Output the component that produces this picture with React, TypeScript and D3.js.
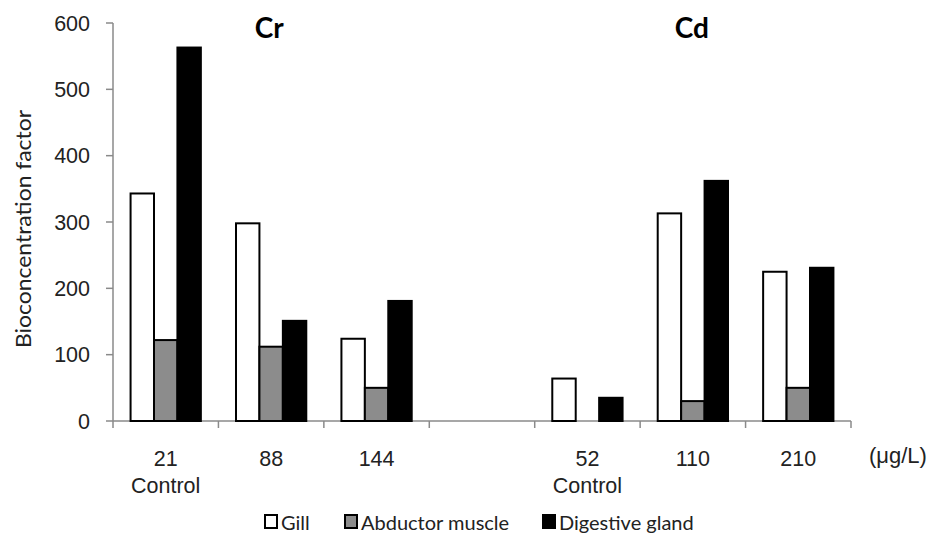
import React from "react";
import * as d3 from "d3";

const categories = ["21", "88", "144", "", "52", "110", "210"];
const subLabels = ["Control", "", "", "", "Control", "", ""];
const seriesNames = ["Gill", "Abductor muscle", "Digestive gland"];
const seriesFill = ["#ffffff", "#8c8c8c", "#000000"];
const gill = [343, 298, 124, null, 64, 313, 225];
const abductor = [122, 112, 50, null, 0, 30, 50];
const digestive = [563, 151, 181, null, 35, 362, 231];
const yTicks = [0, 100, 200, 300, 400, 500, 600];
const groupTitles = ["Cr", "Cd"];

const W = 936;
const H = 533;

export default function App() {
  const x = d3
    .scaleBand<number>()
    .domain(categories.map((_, i) => i))
    .range([113, 851])
    .paddingInner(0)
    .paddingOuter(0);
  const y = d3.scaleLinear().domain([0, 600]).range([421, 23]);
  const bw = x.bandwidth();
  const barW = bw / 4.5;
  const sub = d3
    .scaleBand<number>()
    .domain([0, 1, 2])
    .range([0.75 * barW, 3.75 * barW]);
  const series = [gill, abductor, digestive];
  const axisColor = "#8a8a8a";
  const arial = "'Liberation Sans', Arial, sans-serif";
  const cal = "Lato, 'Open Sans', sans-serif";

  const ticksX = d3.range(categories.length + 1).map((i) => 113 + i * bw);

  return (
    <svg
      width={W}
      height={H}
      style={{ position: "absolute", left: 0, top: 0, background: "#fff" }}
    >
      <rect x={0} y={0} width={W} height={H} fill="#fff" />
      {/* y axis */}
      <line x1={113} x2={113} y1={y(600)} y2={y(0)} stroke={axisColor} strokeWidth={1.5} />
      {yTicks.map((t) => (
        <g key={t}>
          <line x1={106} x2={113} y1={y(t)} y2={y(t)} stroke={axisColor} strokeWidth={1.5} />
          <text
            x={90}
            y={y(t)}
            dy="0.36em"
            textAnchor="end"
            fontFamily={arial}
            fontSize={21.5}
            fill="#222"
          >
            {t}
          </text>
        </g>
      ))}
      <text
        transform={`translate(31,229) rotate(-90)`}
        textAnchor="middle"
        fontFamily={cal}
        fontSize={21}
        textLength={238}
        lengthAdjust="spacingAndGlyphs"
        fill="#222"
      >
        Bioconcentration factor
      </text>
      {/* x axis */}
      <line x1={113} x2={851} y1={y(0)} y2={y(0)} stroke={axisColor} strokeWidth={1.5} />
      {ticksX.map((tx, i) => (
        <line key={i} x1={tx} x2={tx} y1={y(0)} y2={y(0) + 7} stroke={axisColor} strokeWidth={1.5} />
      ))}
      {categories.map((c, i) => (
        <g key={"lab" + i}>
          <text
            x={x(i)! + bw / 2}
            y={466}
            textAnchor="middle"
            fontFamily={arial}
            fontSize={21.5}
            fill="#222"
          >
            {c}
          </text>
          {subLabels[i] && (
            <text
              x={x(i)! + bw / 2}
              y={493}
              textAnchor="middle"
              fontFamily={arial}
              fontSize={21.5}
              fill="#222"
            >
              {subLabels[i]}
            </text>
          )}
        </g>
      ))}
      <text x={869} y={463} fontFamily={arial} fontSize={22} fill="#222">
        (μg/L)
      </text>
      {/* bars */}
      {series.map((vals, s) =>
        vals.map((v, i) =>
          v == null || v === 0 ? null : (
            <rect
              key={s + "-" + i}
              x={x(i)! + sub(s)!}
              y={y(v)}
              width={sub.bandwidth()}
              height={y(0) - y(v)}
              fill={seriesFill[s]}
              stroke="#000"
              strokeWidth={2}
            />
          )
        )
      )}
      {/* group titles */}
      <text x={x(1)! + bw / 2 - 2} y={38} textAnchor="middle" fontFamily={cal} fontWeight="bold" fontSize={28} fill="#000">
        {groupTitles[0]}
      </text>
      <text x={x(5)! + bw / 2 - 1} y={38} textAnchor="middle" fontFamily={cal} fontWeight="bold" fontSize={28} fill="#000">
        {groupTitles[1]}
      </text>
      {/* legend */}
      {seriesNames.map((n, s) => {
        const lx = [265, 345, 543][s];
        return (
          <g key={n}>
            <rect x={lx} y={515} width={12} height={13} fill={seriesFill[s]} stroke="#000" strokeWidth={2} />
            <text x={lx + 16} y={530} fontFamily={cal} fontSize={20} fill="#222">
              {n}
            </text>
          </g>
        );
      })}
    </svg>
  );
}
